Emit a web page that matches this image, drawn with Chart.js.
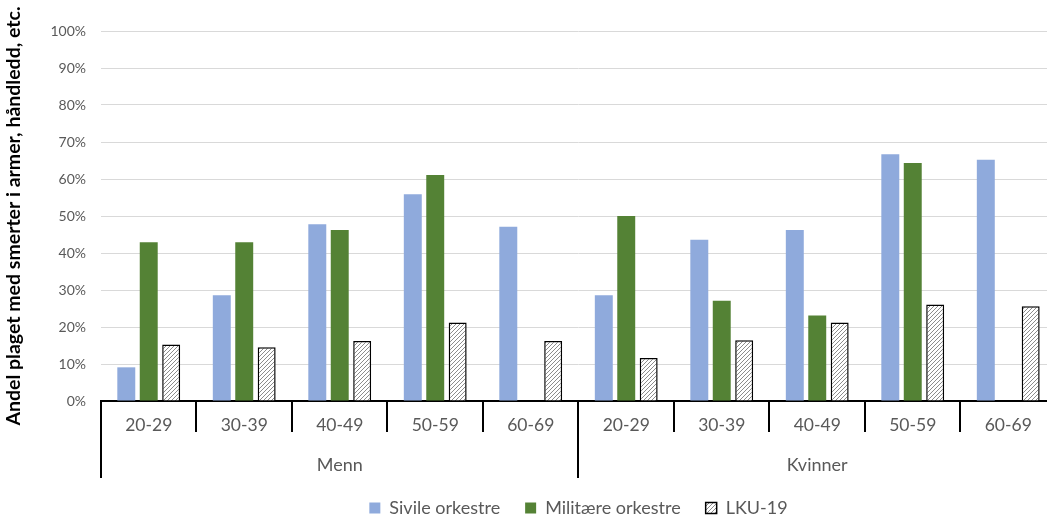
<!DOCTYPE html>
<html>
<head>
<meta charset="utf-8">
<script src="https://cdn.jsdelivr.net/npm/chart.js@4"></script>
<style>
  html,body{margin:0;padding:0;background:#fff;overflow:hidden}
  #wrap{width:1056px;height:519px}
</style>
</head>
<body>
<div id="wrap"><canvas id="chart"></canvas></div>
<script>
// age bands shown under each sex, values in percent
const sexes = ['Menn', 'Kvinner'];
const ageGroups = ['20-29', '30-39', '40-49', '50-59', '60-69'];
const sivile = [9.1, 28.6, 47.8, 55.9, 47.1, 28.6, 43.6, 46.2, 66.7, 65.2];
const militaere = [42.9, 42.9, 46.2, 61.1, null, 50.0, 27.1, 23.1, 64.3, null];
const lku = [15.3, 14.5, 16.2, 21.2, 16.2, 11.6, 16.4, 21.2, 26.1, 25.6];
const yTicks = [0, 10, 20, 30, 40, 50, 60, 70, 80, 90, 100];

const labels = sexes.flatMap(() => ageGroups);
const textGrey = '#595959';
const font = 'Lato';

// diagonal hatch fill for the LKU-19 bars
function hatch(){
  const s = 4;
  const c = document.createElement('canvas'); c.width = c.height = s;
  const g = c.getContext('2d');
  g.fillStyle = '#fff'; g.fillRect(0, 0, s, s);
  g.strokeStyle = '#8c8c8c'; g.lineWidth = 1;
  g.beginPath();
  g.moveTo(0, s); g.lineTo(s, 0);
  g.moveTo(-1, 1); g.lineTo(1, -1);
  g.moveTo(s - 1, s + 1); g.lineTo(s + 1, s - 1);
  g.stroke();
  return g.createPattern(c, 'repeat');
}

// two-row category axis: age bands + sex groups with separators
const groupAxis = {
  id: 'groupAxis',
  afterDraw(chart){
    const x = chart.scales.x, ctx = chart.ctx;
    const top = chart.chartArea.bottom;
    const n = labels.length, w = (x.right - x.left) / n;
    const per = ageGroups.length;
    ctx.save();
    ctx.strokeStyle = '#000'; ctx.lineWidth = 2;
    for(let i = 0; i <= n; i++){
      const px = Math.round(x.left + i * w);
      const len = i % per === 0 ? 77 : 31;
      ctx.beginPath(); ctx.moveTo(px, top); ctx.lineTo(px, top + len); ctx.stroke();
    }
    ctx.fillStyle = textGrey; ctx.textAlign = 'center'; ctx.textBaseline = 'middle';
    ctx.font = `17.5px ${font}`;
    labels.forEach((l, i) => ctx.fillText(l, x.getPixelForValue(i), top + 24));
    ctx.font = `18px ${font}`;
    sexes.forEach((s, j) => {
      const cx = x.left + (j * per + per / 2) * w;
      ctx.fillText(s, cx, top + 64);
    });
    ctx.restore();
  }
};

new Chart(document.getElementById('chart'), {
  type: 'bar',
  data: {
    labels,
    datasets: [
      {label: 'Sivile orkestre', data: sivile, backgroundColor: '#8faadc'},
      {label: 'Militære orkestre', data: militaere, backgroundColor: '#548235'},
      {label: 'LKU-19', data: lku, backgroundColor: hatch(), borderColor: '#000', borderWidth: 1.5}
    ]
  },
  options: {
    responsive: true, maintainAspectRatio: false, animation: false, devicePixelRatio: 1,
    categoryPercentage: 0.705, barPercentage: 0.8,
    layout: {padding: {top: 31, right: 0, left: 2, bottom: -8}},
    plugins: {
      tooltip: {enabled: false},
      legend: {
        position: 'bottom', fullSize: false,
        labels: {boxWidth: 11, boxHeight: 11, padding: 25, color: textGrey, font: {family: font, size: 18}}
      }
    },
    scales: {
      x: {
        grid: {display: false},
        border: {color: '#000', width: 2},
        ticks: {display: false},
        afterFit(s){ s.height = 73; }
      },
      y: {
        min: 0, max: 100,
        afterBuildTicks(s){ s.ticks = yTicks.map(v => ({value: v})); },
        grid: {color: '#d9d9d9', drawTicks: false},
        border: {display: false},
        ticks: {padding: 15, color: textGrey, font: {family: font, size: 14}, callback: v => v + '%'},
        title: {display: true, text: 'Andel plaget med smerter i armer, håndledd, etc.', color: '#000',
                font: {family: font, size: 19.5, weight: 'bold'}, padding: {top: 0, bottom: 10}}
      }
    }
  },
  plugins: [groupAxis]
});
</script>
</body>
</html>
